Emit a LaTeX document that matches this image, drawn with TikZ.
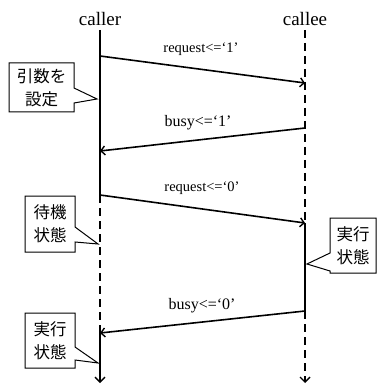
\documentclass[tikz,border=0pt]{standalone}
\usepackage{fontspec}
\setmainfont{Liberation Serif}
\newfontfamily\jp{Noto Sans CJK JP}
\usetikzlibrary{arrows.meta}
\begin{document}
\begin{tikzpicture}[x=1pt,y=-1pt,
  life/.style={line width=1.6pt},
  lifedash/.style={line width=1.6pt,dash pattern=on 8pt off 5pt},
  msg/.style={line width=1.6pt,-{Straight Barb[length=4pt,width=9pt,line width=1.4pt]}},
  endarrow/.style={-{Straight Barb[length=5pt,width=10pt,line width=1.4pt]}},
  lbl/.style={font=\fontsize{14.5}{16}\selectfont,inner sep=0pt},
  lblbig/.style={font=\fontsize{16}{18}\selectfont,inner sep=0pt},
  head/.style={font=\fontsize{19}{20}\selectfont,inner sep=0pt},
  callout/.style={draw,line width=1pt,fill=white},
  jptext/.style={font=\jp\fontsize{16.5}{23}\selectfont,align=center,inner sep=0pt}]
\useasboundingbox (0,0) rectangle (377,387);
% lifeline heads
\node[head] (caller) at (100,19) {caller};
\node[head] (callee) at (305,19) {callee};
% caller coordinates
\coordinate (cT) at (100,30);
\coordinate (c1) at (100,56);
\coordinate (c2) at (100,151);
\coordinate (c3) at (100,195);
\coordinate (c4) at (100,333);
\coordinate (cB) at (100,383);
% callee coordinates
\coordinate (eT) at (305,30);
\coordinate (e1) at (305,83);
\coordinate (e2) at (305,128);
\coordinate (e3) at (305,223);
\coordinate (e4) at (305,311);
\coordinate (eB) at (305,383);
% lifelines
\draw[life] (cT) -- (c3);
\draw[lifedash] (c3) -- (c4);
\draw[life,endarrow] (c4) -- (cB);
\draw[lifedash] (eT) -- (e3);
\draw[life] (e3) -- (e4);
\draw[lifedash,endarrow] (e4) -- (eB);
% messages
\draw[msg] (c1) -- (e1);
\draw[msg] (e2) -- (c2);
\draw[msg] (c3) -- (e3);
\draw[msg] (e4) -- (c4);
% message labels
\node[lbl] (m1) at (201,49) {request<=‘1’};
\node[lblbig] (m2) at (198,123) {busy<=‘1’};
\node[lbl] (m3) at (202,188) {request<=‘0’};
\node[lblbig] (m4) at (202,306) {busy<=‘0’};
% callouts
\draw[callout] (9,63) -- (74,63) -- (74,88) -- (97,99) -- (74,103) -- (74,112) -- (9,112) -- cycle;
\node[jptext] (n1) at (41.5,87.5) {引数を\\設定};
\draw[callout] (25,196) -- (75,196) -- (75,227) -- (98,244) -- (75,242) -- (75,252) -- (25,252) -- cycle;
\node[jptext] (n2) at (50,224) {待機\\状態};
\draw[callout] (25,313) -- (75,313) -- (75,347) -- (98,363) -- (75,360) -- (75,368) -- (25,368) -- cycle;
\node[jptext] (n3) at (50,340.5) {実行\\状態};
\draw[callout] (330,218) -- (376,218) -- (376,273) -- (330,273) -- (330,271) -- (307,264) -- (330,253) -- cycle;
\node[jptext] (n4) at (353,245.5) {実行\\状態};
\end{tikzpicture}
\end{document}
